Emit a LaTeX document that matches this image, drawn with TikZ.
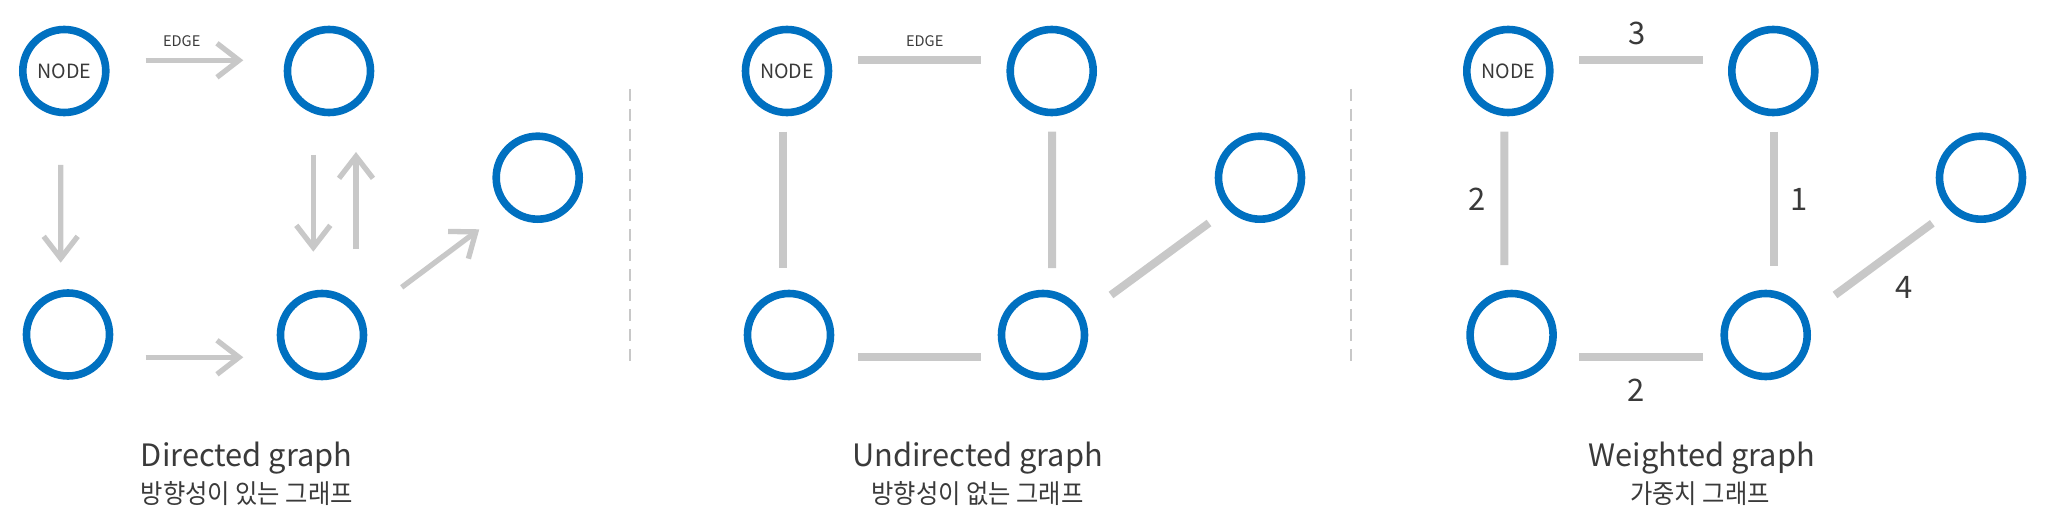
\documentclass[tikz,border=0pt]{standalone}
\usepackage{fontspec}
\setmainfont{Noto Sans CJK KR}
\newfontfamily\korfont[FakeStretch=0.92]{Noto Sans CJK KR}
\usetikzlibrary{arrows.meta}
\definecolor{bleu}{HTML}{0070C0}
\definecolor{gris}{HTML}{C8C8C8}
\definecolor{encre}{HTML}{3A3A3A}

\begin{document}
\begin{tikzpicture}[
    x=0.5pt, y=-0.5pt, text=encre, font=\fontsize{9.8pt}{11pt}\selectfont,
    noeud/.style={draw=bleu, line width=3.8pt, circle, minimum size=41.5pt, inner sep=0pt, outer sep=0pt},
    fleche/.style={draw=gris, line width=2.65pt, -{Straight Barb[length=11pt,width=17pt]}},
    lien/.style={draw=gris, line width=4pt},
    sep/.style={draw=gris, line width=1pt, dash pattern=on 6pt off 4pt},
    etiq/.style={font=\fontsize{7.3pt}{9pt}\selectfont},
    poids/.style={font=\fontsize{15.5pt}{18pt}\selectfont},
    titre/.style={anchor=base, font=\fontsize{15.4pt}{19pt}\selectfont},
    soustitre/.style={anchor=base, font=\korfont\fontsize{13.2pt}{15pt}\selectfont},
  ]
  \useasboundingbox (0,0) rectangle (2052,524);

  % --- Directed graph ---
  \node[noeud] (a1) at (64.3,71) {NODE};
  \node[noeud] (a2) at (329,71) {};
  \node[noeud] (a3) at (68,334.5) {};
  \node[noeud] (a4) at (322,335) {};
  \node[noeud] (a5) at (537.7,177.7) {};
  \draw[fleche] ([shift={(81.4,-10.7)}]a1.center) -- ([shift={(-85.7,-10.7)}]a2.center);
  \node[etiq] (e1) at (181.7,40.7) {EDGE};
  \draw[fleche] ([shift={(-3.6,94)}]a1.center) -- ([shift={(-7.3,-71.8)}]a3.center);
  \draw[fleche] ([shift={(77.7,22.8)}]a3.center) -- ([shift={(-78.7,22.3)}]a4.center);
  \draw[fleche] ([shift={(-15.7,83.7)}]a2.center) -- ([shift={(-8.7,-83.3)}]a4.center);
  \draw[fleche] ([shift={(34,-86)}]a4.center) -- ([shift={(27,81)}]a2.center);
  \draw[fleche] ([shift={(79.7,-47.7)}]a4.center) -- ([shift={(-58.4,51.6)}]a5.center);
  \node[titre] (t1) at (246.7,466.7) {Directed graph};
  \node[soustitre] (s1) at (246.7,503) {방향성이 있는 그래프};

  \draw[sep] (629.5,89) -- (629.5,362);

  % --- Undirected graph ---
  \node[noeud] (b1) at (787,71) {NODE};
  \node[noeud] (b2) at (1051.7,71) {};
  \node[noeud] (b3) at (789,335) {};
  \node[noeud] (b4) at (1043,335) {};
  \node[noeud] (b5) at (1260,177.7) {};
  \draw[lien] ([shift={(71,-10.7)}]b1.center) -- ([shift={(-70.7,-10.7)}]b2.center);
  \node[etiq] (e2) at (924.7,40.7) {EDGE};
  \draw[lien] ([shift={(-3.7,60.7)}]b1.center) -- ([shift={(-5.7,-67)}]b3.center);
  \draw[lien] ([shift={(0.3,60.7)}]b2.center) -- ([shift={(9,-67)}]b4.center);
  \draw[lien] ([shift={(69,22)}]b3.center) -- ([shift={(-62,22)}]b4.center);
  \draw[lien] ([shift={(68,-40)}]b4.center) -- ([shift={(-51,45.3)}]b5.center);
  \node[titre] (t2) at (977.6,466.7) {Undirected graph};
  \node[soustitre] (s2) at (977.6,503) {방향성이 없는 그래프};

  \draw[sep] (1350.6,89) -- (1350.6,362);

  % --- Weighted graph ---
  \node[noeud] (c1) at (1508.3,71) {NODE};
  \node[noeud] (c2) at (1773.3,71) {};
  \node[noeud] (c3) at (1511.6,335) {};
  \node[noeud] (c4) at (1765.7,335) {};
  \node[noeud] (c5) at (1981,177.7) {};
  \draw[lien] ([shift={(71,-10.7)}]c1.center) -- ([shift={(-70.6,-10.7)}]c2.center);
  \draw[lien] ([shift={(-4,60.7)}]c1.center) -- ([shift={(-7.3,-70)}]c3.center);
  \draw[lien] ([shift={(0.7,60.7)}]c2.center) -- ([shift={(8.3,-69.3)}]c4.center);
  \draw[lien] ([shift={(67.7,22)}]c3.center) -- ([shift={(-63,22)}]c4.center);
  \draw[lien] ([shift={(69.3,-40)}]c4.center) -- ([shift={(-48.7,45.6)}]c5.center);
  \node[poids] (p1) at (1637.3,33.3) {3};
  \node[poids] (p2) at (1477.5,199) {2};
  \node[poids] (p3) at (1799.3,199) {1};
  \node[poids] (p4) at (1636,390) {2};
  \node[poids] (p5) at (1904.3,287.3) {4};
  \node[titre] (t3) at (1701.7,466.7) {Weighted graph};
  \node[soustitre] (s3) at (1700,503) {가중치 그래프};
\end{tikzpicture}
\end{document}
